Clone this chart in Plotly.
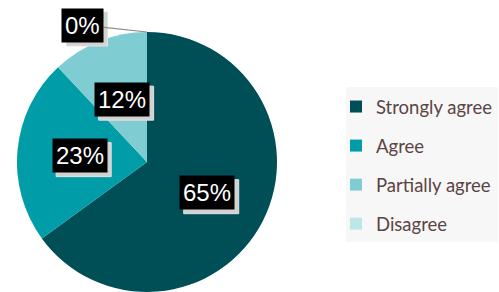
import math
import plotly.graph_objects as go

categories = ["Strongly agree", "Agree", "Partially agree", "Disagree"]
values = [65, 23, 12, 0]
colors = ["#004E56", "#009DA8", "#7FCDD3", "#BCE6E8"]

W, H = 499, 292
dom_x = [17 / W, 277 / W]
dom_y = [0.0, 1 - 32 / H]

fig = go.Figure()
fig.add_trace(go.Pie(
    labels=categories, values=values, sort=False, direction="clockwise",
    rotation=0, marker=dict(colors=colors, line=dict(width=0)),
    textinfo="none", hoverinfo="label+percent", showlegend=False,
    domain=dict(x=dom_x, y=dom_y),
))

# legend entries (dummy traces so item spacing can be controlled)
for i, (c, col) in enumerate(zip(categories, colors)):
    fig.add_trace(go.Scatter(
        x=[None], y=[None], mode="markers", name=c, legendgroup=f"g{i}",
        marker=dict(symbol="square", size=12, color=col),
    ))

# label annotations computed from the data
cx_px = (dom_x[0] + dom_x[1]) / 2 * W
cy_px = (1 - (dom_y[0] + dom_y[1]) / 2) * H
R = min((dom_x[1] - dom_x[0]) * W, (dom_y[1] - dom_y[0]) * H) / 2
total = sum(values)
cum = 0
annotations = []
shapes = [dict(type="rect", xref="paper", yref="paper",
               x0=346 / W, x1=498 / W, y0=1 - 242 / H, y1=1 - 87 / H,
               fillcolor="#F7F7F7", line=dict(width=0), layer="below")]
FONT = "Liberation Sans, Arial"
FS = 24
BOX_H = 34
for v in values:
    frac = v / total
    label = f"{round(v / total * 100)}%"
    box_w = 14 * (len(label) - 1) + 27
    if v > 0:
        theta = 2 * math.pi * (cum + frac / 2)
        px = cx_px + 0.52 * R * math.sin(theta)
        py = cy_px - 0.52 * R * math.cos(theta)
        dx, dy = 0, 0
        annotations.append(dict(x=px / W, y=1 - py / H, xref="paper", yref="paper",
                                xanchor="center", yanchor="middle",
                                text=label, showarrow=False, borderpad=3,
                                bgcolor="black",
                                font=dict(family=FONT, size=FS, color="white")))
    else:
        theta = 2 * math.pi * cum
        px = cx_px + R * math.sin(theta)
        py = cy_px - R * math.cos(theta)
        dx, dy = -64, 7
        annotations.append(dict(x=px / W, y=1 - py / H, xref="paper", yref="paper",
                                text=label, showarrow=True, arrowhead=0, arrowwidth=1.2,
                                arrowcolor="#8C8C8C", ax=dx, ay=-dy, borderpad=3,
                                bgcolor="black",
                                font=dict(family=FONT, size=FS, color="white")))
    # soft drop shadow behind the label box
    shapes.append(dict(type="rect", xref="paper", yref="paper",
                       xsizemode="pixel", ysizemode="pixel",
                       xanchor=px / W, yanchor=1 - py / H,
                       x0=dx - box_w / 2 + 4, x1=dx + box_w / 2 + 4,
                       y0=dy - BOX_H / 2 - 4, y1=dy + BOX_H / 2 - 4,
                       fillcolor="#D2D2D2", line=dict(color="#E2E2E2", width=1),
                       layer="above"))
    cum += frac

fig.update_layout(
    width=W, height=H, margin=dict(l=0, r=0, t=0, b=0),
    paper_bgcolor="white", plot_bgcolor="white",
    xaxis=dict(visible=False, domain=[0.99, 1]), yaxis=dict(visible=False, domain=[0.99, 1]),
    annotations=annotations,
    shapes=shapes,
    legend=dict(x=336 / W, y=1 - 88 / H, xanchor="left", yanchor="top",
                bgcolor="rgba(0,0,0,0)", tracegroupgap=12,
                font=dict(family="Lato", size=18.5, color="#5B4444"),
                itemclick=False, itemdoubleclick=False),
)

fig.write_html("out.html", config={"displayModeBar": False},
               post_script="document.body.style.margin='0';")
